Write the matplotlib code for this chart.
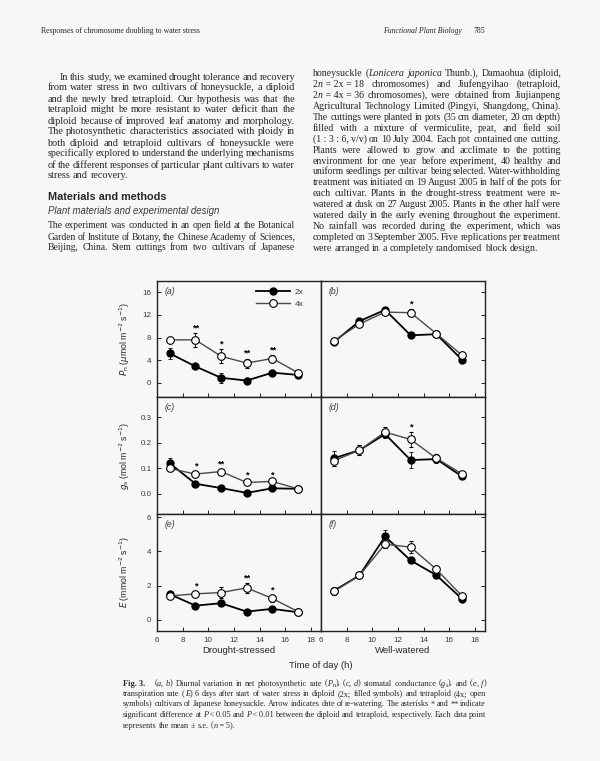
import matplotlib
matplotlib.use('Agg')
import matplotlib.pyplot as plt
from matplotlib.font_manager import FontProperties
from matplotlib.lines import Line2D

PAGE = '#f7f7f7'
INK = '#262626'
SERIF = 'Liberation Serif'
SANS = 'Liberation Sans'

# ---- data ----
hours = [7, 9, 11, 13, 15, 17]

pn_ds_2x = [5.2, 2.9, 0.9, 0.4, 1.8, 1.4]
pn_ds_2x_se = [0.95, 0.3, 0.9, 0.25, 0.3, 0.3]
pn_ds_4x = [7.6, 7.6, 4.7, 3.5, 4.3, 1.8]
pn_ds_4x_se = [0.4, 1.2, 1.2, 0.8, 0.6, 0.3]
pn_ds_sig = ['', '**', '*', '**', '**', '']

pn_ww_2x = [7.2, 10.9, 12.9, 8.4, 8.6, 4.1]
pn_ww_2x_se = [0.3, 0.3, 0.4, 0.3, 0.3, 0.3]
pn_ww_4x = [7.4, 10.4, 12.5, 12.4, 8.7, 4.9]
pn_ww_4x_se = [0.3, 0.3, 0.5, 0.6, 0.3, 0.3]
pn_ww_sig = ['', '', '', '*', '', '']

gs_ds_2x = [0.119, 0.039, 0.022, 0.003, 0.021, 0.019]
gs_ds_2x_se = [0.02, 0.005, 0.005, 0.004, 0.004, 0.003]
gs_ds_4x = [0.099, 0.077, 0.087, 0.044, 0.048, 0.019]
gs_ds_4x_se = [0.008, 0.012, 0.01, 0.007, 0.006, 0.003]
gs_ds_sig = ['', '*', '**', '*', '*', '']

gs_ww_2x = [0.139, 0.171, 0.234, 0.132, 0.136, 0.068]
gs_ww_2x_se = [0.03, 0.02, 0.015, 0.03, 0.015, 0.006]
gs_ww_4x = [0.129, 0.171, 0.242, 0.213, 0.139, 0.078]
gs_ww_4x_se = [0.02, 0.02, 0.02, 0.028, 0.015, 0.006]
gs_ww_sig = ['', '', '', '*', '', '']

e_ds_2x = [1.49, 0.82, 0.96, 0.47, 0.63, 0.43]
e_ds_2x_se = [0.1, 0.06, 0.15, 0.06, 0.06, 0.05]
e_ds_4x = [1.39, 1.51, 1.59, 1.86, 1.24, 0.47]
e_ds_4x_se = [0.12, 0.15, 0.3, 0.3, 0.2, 0.05]
e_ds_sig = ['', '*', '', '**', '*', '']

e_ww_2x = [1.69, 2.59, 4.88, 3.47, 2.61, 1.22]
e_ww_2x_se = [0.2, 0.08, 0.4, 0.15, 0.1, 0.06]
e_ww_4x = [1.65, 2.59, 4.43, 4.25, 2.96, 1.39]
e_ww_4x_se = [0.2, 0.08, 0.2, 0.35, 0.15, 0.06]
e_ww_sig = ['', '', '', '', '', '']

xticks = [6, 8, 10, 12, 14, 16, 18]

# ---- page text (_italic_, #bold#, ~subscript~) ----
header_left = 'Responses of chromosome doubling to water stress'
header_journal = 'Functional Plant Biology'
header_page = '785'

col1_para = [
    'In this study, we examined drought tolerance and recovery',
    'from water stress in two cultivars of honeysuckle, a diploid',
    'and the newly bred tetraploid. Our hypothesis was that the',
    'tetraploid might be more resistant to water deficit than the',
    'diploid because of improved leaf anatomy and morphology.',
    'The photosynthetic characteristics associated with ploidy in',
    'both diploid and tetraploid cultivars of honeysuckle were',
    'specifically explored to understand the underlying mechanisms',
    'of the different responses of particular plant cultivars to water',
    'stress and recovery.',
]
col1_head = 'Materials and methods'
col1_sub = 'Plant materials and experimental design'
col1_para2 = [
    'The experiment was conducted in an open field at the Botanical',
    'Garden of Institute of Botany, the Chinese Academy of Sciences,',
    'Beijing, China. Stem cuttings from two cultivars of Japanese',
]
col2_para = [
    'honeysuckle (_Lonicera japonica_ Thunb.), Damaohua (diploid,',
    '2_n_\u00a0=\u00a02x\u00a0=\u00a018 chromosomes) and Jiufengyihao (tetraploid,',
    '2_n_\u00a0=\u00a04x\u00a0=\u00a036 chromosomes), were obtained from Jiujianpeng',
    'Agricultural Technology Limited (Pingyi, Shangdong, China).',
    'The cuttings were planted in pots (35 cm diameter, 20 cm depth)',
    'filled with a mixture of vermiculite, peat, and field soil',
    '(1\u00a0:\u00a03\u00a0:\u00a06, v/v) on 10 July 2004. Each pot contained one cutting.',
    'Plants were allowed to grow and acclimate to the potting',
    'environment for one year before experiment, 40 healthy and',
    'uniform seedlings per cultivar being selected. Water-withholding',
    'treatment was initiated on 19 August 2005 in half of the pots for',
    'each cultivar. Plants in the drought-stress treatment were re-',
    'watered at dusk on 27 August 2005. Plants in the other half were',
    'watered daily in the early evening throughout the experiment.',
    'No rainfall was recorded during the experiment, which was',
    'completed on 3 September 2005. Five replications per treatment',
    'were arranged in a completely randomised block design.',
]
caption = [
    '#Fig.\u00a03.#\u00a0\u00a0\u00a0 (_a_, _b_) Diurnal variation in net photosynthetic rate (_P_~n~), (_c_, _d_) stomatal conductance (_g_~s~), and (_e_, _f_)',
    'transpiration rate (_E_) 6 days after start of water stress in diploid (2x; filled symbols) and tetraploid (4x; open',
    'symbols) cultivars of Japanese honeysuckle. Arrow indicates date of re-watering. The asterisks * and ** indicate',
    'significant difference at _P_\u2009<\u20090.05 and _P_\u2009<\u20090.01 between the diploid and tetraploid, respectively. Each data point',
    'represents the mean \u00b1 s.e. (_n_\u2009=\u20095).',
]

W, H = 600, 761
fig = plt.figure(figsize=(6, 7.61), dpi=100, facecolor=PAGE)
renderer = fig.canvas.get_renderer()


def fx(x):
    return x / W


def fy(y):
    return 1 - y / H


def fprops(style, size, family):
    return FontProperties(family=family, size=size,
                          style='italic' if style == 'i' else 'normal',
                          weight='bold' if style == 'b' else 'normal')


def seg_size(style, size):
    return size * 0.7 if style == 's' else size


def seg_width(text, style, size, family):
    w, h, d = renderer.get_text_width_height_descent(
        text, fprops(style, seg_size(style, size), family), ismath=False)
    return w


def parse(line):
    marks = {'_': 'i', '#': 'b', '~': 's'}
    words = []
    style = 'n'
    for raw in line.split(' '):
        segs = []
        buf = ''
        for ch in raw:
            if ch in marks:
                if buf:
                    segs.append((buf, style))
                    buf = ''
                style = 'n' if style == marks[ch] else marks[ch]
            else:
                buf += ch
        if buf:
            segs.append((buf, style))
        words.append(segs)
    return words


def line_fit(line, width, family, tight=0.8):
    # size at which this line fills the width with slightly tight spaces
    words = parse(line)
    ws = sum(seg_width(t, s, 10, family) for segs in words for t, s in segs)
    ws += (len(words) - 1) * 10 * 0.25 * tight * 100 / 72
    return 10 * width / ws


def paragraph_sizes(lines, width, family=SERIF, indent=0):
    fits = [line_fit(l, width - (indent if i == 0 else 0), family)
            for i, l in enumerate(lines[:-1])]
    base = sorted(fits)[len(fits) // 2] * 0.97
    sizes = [min(base, f) for f in fits]
    return sizes + [base]


def put_line(x0, x1, y, line, size=6.9, family=SERIF, justify=True):
    words = parse(line)
    widths = [sum(seg_width(t, s, size, family) for t, s in segs) for segs in words]
    space = size * 0.25 * 100 / 72
    if justify and len(words) > 1:
        gap = (x1 - x0 - sum(widths)) / (len(words) - 1)
    else:
        gap = space
    x = x0
    for segs, w in zip(words, widths):
        for t, s in segs:
            dy = 1.6 if s == 's' else 0
            fig.text(fx(x), fy(y + dy), t, fontproperties=fprops(s, seg_size(s, size), family),
                     color=INK, ha='left', va='baseline')
            x += seg_width(t, s, size, family)
        x += gap


# header
fig.text(fx(41), fy(33), header_left, fontproperties=fprops('n', 5.6, SERIF), color=INK, va='baseline')
fig.text(fx(383), fy(33), header_journal, fontproperties=fprops('i', 5.6, SERIF), color=INK, va='baseline')
fig.text(fx(474), fy(33), header_page, fontproperties=fprops('n', 5.6, SERIF), color=INK, va='baseline')

# left column
LH = 11.0
s1 = paragraph_sizes(col1_para, 295 - 47.5, indent=12.5)
for i, line in enumerate(col1_para):
    x0 = 60 if i == 0 else 47.5
    put_line(x0, 295, 79.5 + i * LH, line, size=s1[i], justify=(i < len(col1_para) - 1))
fig.text(fx(47.5), fy(199.5), col1_head, fontproperties=fprops('b', 7.8, SANS), color=INK, va='baseline')
fig.text(fx(47.5), fy(213.5), col1_sub, fontproperties=fprops('i', 6.9, SANS), color='#3a3a3a', va='baseline')
s2 = paragraph_sizes(col1_para2 + [''], 295 - 47.5)
for i, line in enumerate(col1_para2):
    put_line(47.5, 295, 228.5 + i * LH, line, size=s2[i])

# right column
s3 = paragraph_sizes(col2_para, 561 - 313)
for i, line in enumerate(col2_para):
    put_line(313, 561, 76 + i * 10.94, line, size=s3[i], justify=(i < len(col2_para) - 1))

# caption
s4 = paragraph_sizes(caption, 486 - 123)
for i, line in enumerate(caption):
    put_line(123, 486, 685.5 + i * 10.5, line, size=s4[i], justify=(i < len(caption) - 1))

# ---- figure panels ----
LEFT, MID, RIGHT = 157, 321, 485
ROWS = [(281, 397), (397, 514), (514, 631)]
ylims = [(-2.5, 18.0), (-0.08, 0.38), (-0.67, 6.2)]
yticks = [[0, 4, 8, 12, 16], [0.0, 0.1, 0.2, 0.3], [0, 2, 4, 6]]
yfmt = ['{:.0f}', '{:.1f}', '{:.0f}']
ylabels = [r'$P_{\rm n}$ ($\mu$mol m$^{-2}$ s$^{-1}$)',
           r'$g_{\rm s}$ (mol m$^{-2}$ s$^{-1}$)',
           r'$E$ (mmol m$^{-2}$ s$^{-1}$)']

series = [
    [(pn_ds_2x, pn_ds_2x_se, pn_ds_4x, pn_ds_4x_se, pn_ds_sig, 'a'),
     (pn_ww_2x, pn_ww_2x_se, pn_ww_4x, pn_ww_4x_se, pn_ww_sig, 'b')],
    [(gs_ds_2x, gs_ds_2x_se, gs_ds_4x, gs_ds_4x_se, gs_ds_sig, 'c'),
     (gs_ww_2x, gs_ww_2x_se, gs_ww_4x, gs_ww_4x_se, gs_ww_sig, 'd')],
    [(e_ds_2x, e_ds_2x_se, e_ds_4x, e_ds_4x_se, e_ds_sig, 'e'),
     (e_ww_2x, e_ww_2x_se, e_ww_4x, e_ww_4x_se, e_ww_sig, 'f')],
]

TICK_C = '#3a3a3a'
for r, (top, bot) in enumerate(ROWS):
    for c, (x0, x1) in enumerate([(LEFT, MID), (MID, RIGHT)]):
        ax = fig.add_axes([fx(x0), fy(bot), (x1 - x0) / W, (bot - top) / H])
        ax.set_facecolor(PAGE)
        y2, e2, y4, e4, sig, letter = series[r][c]
        ax.errorbar(hours, y2, yerr=e2, color='black', lw=1.3, marker='o', ms=5,
                    mfc='black', mec='black', ecolor='black', elinewidth=0.6,
                    capsize=1.5, capthick=0.6, zorder=3)
        ax.errorbar(hours, y4, yerr=e4, color='#4a4a4a', lw=1.0, marker='o', ms=5.5,
                    mfc='white', mec='black', mew=0.8, ecolor='black', elinewidth=0.6,
                    capsize=1.5, capthick=0.6, zorder=4)
        for h, a, b, ea, eb, s in zip(hours, y2, y4, e2, e4, sig):
            if s:
                ax.annotate(s, (h, max(a + ea, b + eb)), xytext=(0, 0.5),
                            textcoords='offset points', ha='center', va='bottom',
                            fontsize=6.8, fontweight='bold', family=SANS)
        ax.set_xlim(6, 18.8)
        ax.set_ylim(*ylims[r])
        ax.set_xticks(xticks)
        ax.set_yticks(yticks[r])
        ax.tick_params(direction='in', length=3, width=0.6, labelsize=5.8,
                       labelcolor=TICK_C, pad=4)
        if c == 0:
            ax.set_yticklabels([yfmt[r].format(v) for v in yticks[r]], family=SANS)
            ax.set_ylabel(ylabels[r], fontsize=6.3, color=INK, family=SANS)
            ax.yaxis.set_label_coords(-0.155, 0.5)
        else:
            ax.yaxis.tick_right()
            ax.tick_params(axis='y', labelright=False)
        if r < 2:
            ax.tick_params(axis='x', labelbottom=False)
        else:
            ax.set_xticklabels([str(v) for v in xticks], family=SANS)
            ax.set_xlabel('Drought-stressed' if c == 0 else 'Well-watered',
                          fontsize=6.8, color=INK, family=SANS, labelpad=2)
        for sp in ax.spines.values():
            sp.set_linewidth(1.0)
            sp.set_color('#222222')
        ax.text(0.045, 0.89, '(' + letter + ')', transform=ax.transAxes,
                fontsize=6.3, style='italic', color=TICK_C, family=SANS)
        if r == 0 and c == 0:
            handles = [Line2D([], [], color='black', lw=1.3, marker='o', ms=5, mfc='black'),
                       Line2D([], [], color='#4a4a4a', lw=1.0, marker='o', ms=5.5,
                              mfc='white', mec='black', mew=0.8)]
            ax.legend(handles, ['2x', '4x'], loc='upper left', bbox_to_anchor=(0.56, 1.0),
                      frameon=False, handlelength=4.0, labelspacing=0.45,
                      handletextpad=0.6, labelcolor=TICK_C, prop={'family': SANS, 'size': 6})

fig.text(fx(321), fy(668), 'Time of day (h)', fontsize=6.8, color=INK, family=SANS,
         ha='center', va='baseline')

fig.savefig('out.png', dpi=100, facecolor=PAGE)
